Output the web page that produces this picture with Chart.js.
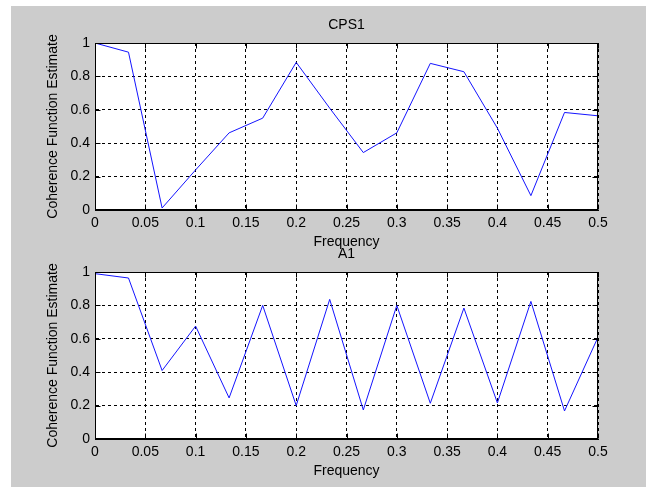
<!DOCTYPE html>
<html>
<head>
<meta charset="utf-8">
<script src="https://cdn.jsdelivr.net/npm/chart.js"></script>
<style>
  body { margin: 0; background: #fff; }
  #page { position: relative; width: 646px; height: 487px; overflow: hidden; }
  #fig { position: absolute; left: 11px; top: 6px; width: 635px; height: 481px; background: #cccccc; }
  canvas { position: absolute; left: 0; }
  #c1 { top: 1px; }
  #c2 { top: 230px; }
</style>
</head>
<body>
<div id="page">
  <div id="fig"></div>
  <canvas id="c1" width="646" height="250"></canvas>
  <canvas id="c2" width="646" height="250"></canvas>
</div>
<script>
    // frequency axis (cycles/sample)
    var freq = [0, 0.0333, 0.0667, 0.1, 0.1333, 0.1667, 0.2, 0.2333, 0.2667, 0.3, 0.3333, 0.3667, 0.4, 0.4333, 0.4667, 0.5];
    // coherence estimates
    var cps1 = [1.0, 0.945, 0.012, 0.24, 0.462, 0.55, 0.884, 0.61, 0.344, 0.462, 0.878, 0.828, 0.49, 0.086, 0.584, 0.564];
    var a1 = [0.99, 0.964, 0.41, 0.676, 0.246, 0.80, 0.20, 0.836, 0.174, 0.80, 0.214, 0.784, 0.216, 0.824, 0.168, 0.61];
    var xTicks = [0, 0.05, 0.1, 0.15, 0.2, 0.25, 0.3, 0.35, 0.4, 0.45, 0.5];
    var yTicks = [0, 0.2, 0.4, 0.6, 0.8, 1];

    Chart.defaults.font.family = '"Liberation Sans", Arial, sans-serif';
    Chart.defaults.font.size = 14;
    Chart.defaults.color = '#000';

    // white axes background, solid box and inward tick marks like matlab
    var matlabBox = {
        id: 'matlabBox',
        beforeDraw: function (chart) {
            var a = chart.chartArea, ctx = chart.ctx;
            ctx.save();
            ctx.fillStyle = '#fff';
            ctx.fillRect(a.left, a.top, a.right - a.left, a.bottom - a.top);
            ctx.restore();
        },
        afterDraw: function (chart) {
            var a = chart.chartArea, ctx = chart.ctx;
            var l = Math.round(a.left) + 0.5, r = Math.round(a.right) - 0.5;
            var t = Math.round(a.top) + 0.5, b = Math.round(a.bottom) - 0.5;
            ctx.save();
            ctx.strokeStyle = '#000';
            ctx.lineWidth = 1;
            ctx.beginPath();
            chart.scales.x.ticks.forEach(function (tk) {
                var px = Math.round(chart.scales.x.getPixelForValue(tk.value)) + 0.5;
                ctx.moveTo(px, b); ctx.lineTo(px, b - 5);
                ctx.moveTo(px, t); ctx.lineTo(px, t + 5);
            });
            chart.scales.y.ticks.forEach(function (tk) {
                var py = Math.round(chart.scales.y.getPixelForValue(tk.value)) + 0.5;
                ctx.moveTo(l, py); ctx.lineTo(l + 5, py);
                ctx.moveTo(r, py); ctx.lineTo(r - 5, py);
            });
            ctx.stroke();
            ctx.strokeRect(l, t, r - l, b - t);
            ctx.restore();
        }
    };

    function makeChart(id, title, values) {
        var pts = freq.map(function (f, i) { return { x: f, y: values[i] }; });
        return new Chart(document.getElementById(id), {
            type: 'line',
            data: {
                datasets: [{
                    data: pts,
                    borderColor: 'rgb(20, 20, 255)',
                    borderWidth: 1,
                    pointRadius: 0,
                    tension: 0,
                    fill: false
                }]
            },
            options: {
                responsive: false,
                animation: false,
                layout: { padding: { left: 0, right: 48, top: 0, bottom: 0 } },
                plugins: {
                    legend: { display: false },
                    tooltip: { enabled: false },
                    title: {
                        display: true,
                        text: title,
                        fullSize: false,
                        font: { size: 14, weight: 'normal' },
                        padding: { top: 15.6, bottom: 9.6 }
                    }
                },
                scales: {
                    x: {
                        type: 'linear',
                        min: 0,
                        max: 0.5,
                        afterBuildTicks: function (s) { s.ticks = xTicks.map(function (v) { return { value: v }; }); },
                        afterFit: function (s) { s.height = 41; },
                        ticks: {
                            padding: 5,
                            maxRotation: 0,
                            autoSkip: false,
                            callback: function (v) { return String(+v.toFixed(2)); }
                        },
                        grid: { color: '#000', lineWidth: 1, drawTicks: false },
                        border: { color: '#000', dash: [3, 3] },
                        title: { display: true, text: 'Frequency', padding: { top: 0, bottom: 0 } }
                    },
                    y: {
                        min: 0,
                        max: 1,
                        afterBuildTicks: function (s) { s.ticks = yTicks.map(function (v) { return { value: v }; }); },
                        afterFit: function (s) { s.width = 95; },
                        ticks: {
                            padding: 5,
                            autoSkip: false,
                            callback: function (v) { return String(+v.toFixed(1)); }
                        },
                        grid: { color: '#000', lineWidth: 1, drawTicks: false },
                        border: { color: '#000', dash: [3, 3] },
                        title: { display: true, text: 'Coherence Function Estimate', padding: { top: 45, bottom: 0 } }
                    }
                }
            },
            plugins: [matlabBox]
        });
    }

    makeChart('c1', 'CPS1', cps1);
    makeChart('c2', 'A1', a1);
</script>
</body>
</html>
